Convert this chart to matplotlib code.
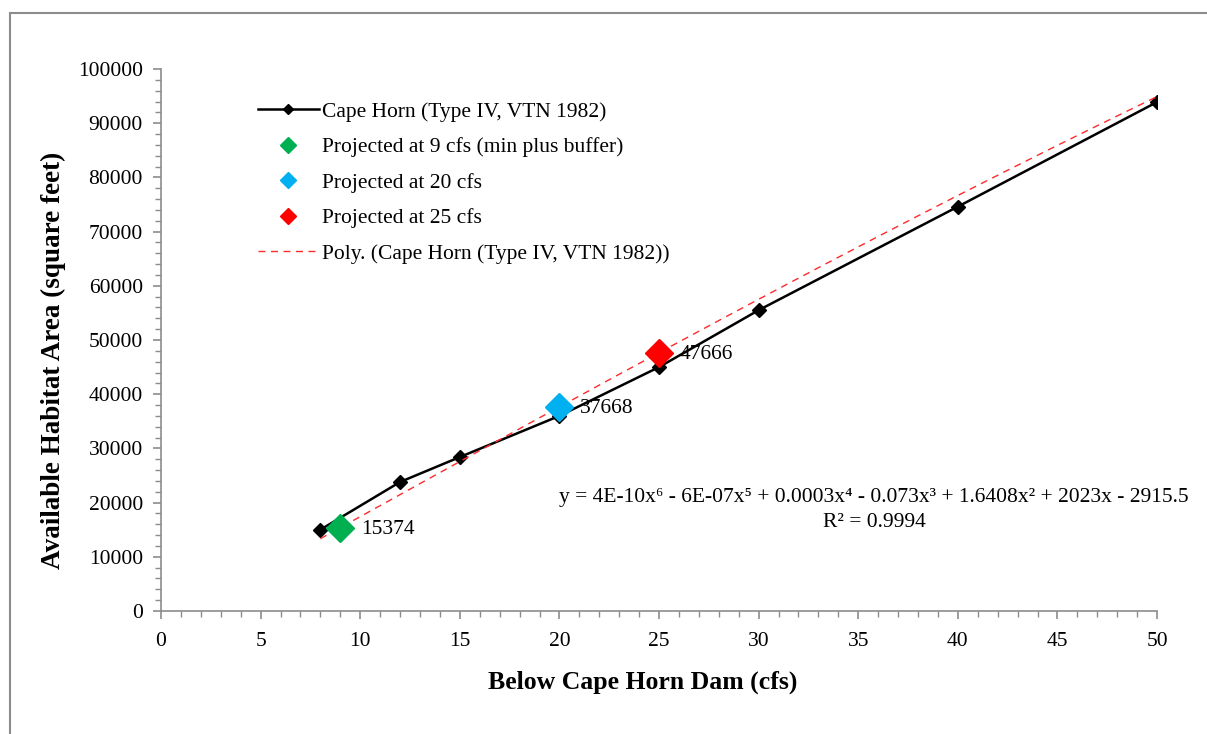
import numpy as np
import matplotlib.pyplot as plt
from matplotlib.lines import Line2D
from matplotlib.patches import Rectangle

plt.rcParams['font.family'] = ['Liberation Serif', 'DejaVu Serif']

# Cape Horn habitat curve
flow = [8, 12, 15, 20, 25, 30, 40, 50]
area = [15000, 23800, 28400, 36000, 45000, 55500, 74600, 93900]

# projected points
proj_x = [9, 20, 25]
proj_y = [15374, 37668, 47666]
proj_colors = ['#00b050', '#00b0f0', '#ff0000']
proj_names = ['Projected at 9 cfs (min plus buffer)', 'Projected at 20 cfs', 'Projected at 25 cfs']

# displayed trendline coefficients (highest power first)
poly_coef = [4e-10, -6e-7, 0.0003, -0.073, 1.6408, 2023, -2915.5]

fig = plt.figure(figsize=(12.07, 7.34), dpi=100)
ax = fig.add_axes([0.1334, 0.1676, 0.8252, 0.7384])

# chart area border (cropped on right/bottom)
fig.patches.append(Rectangle((10/1207, -0.1), 1.2, 1 - 13/734 + 0.1, transform=fig.transFigure,
                             fill=False, edgecolor='#8c8c8c', lw=1.5))

ax.plot(flow, area, color='black', lw=1.8, marker='D', ms=7, zorder=3)

xt = np.linspace(min(flow), max(flow), 200)
ax.plot(xt, np.polyval(poly_coef, xt), color='#ff2a2a', lw=1, ls=(0, (5, 4)), zorder=4)

for x, y, c in zip(proj_x, proj_y, proj_colors):
    ax.plot(x, y, marker='D', ms=14, color=c, ls='none', zorder=5)
    ax.annotate(str(y), (x, y), xytext=(15, -1), textcoords='offset points',
                fontsize=15.5, va='center', ha='left')

ax.text(0.716, 0.210, 'y = 4E-10x⁶ - 6E-07x⁵ + 0.0003x⁴ - 0.073x³ + 1.6408x² + 2023x - 2915.5',
        transform=ax.transAxes, ha='center', va='center', fontsize=15.5)
ax.text(0.716, 0.164, 'R² = 0.9994', transform=ax.transAxes, ha='center', va='center', fontsize=15.5)

ax.set_xlim(0, 50)
ax.set_ylim(0, 100000)
ax.set_xticks(np.arange(0, 51, 5))
ax.set_xticks(np.arange(0, 51, 1), minor=True)
ax.set_yticks(np.arange(0, 100001, 10000))
ax.set_yticks(np.arange(0, 100001, 2000), minor=True)
for s in ['top', 'right']:
    ax.spines[s].set_visible(False)
for s in ['left', 'bottom']:
    ax.spines[s].set_color('#8c8c8c')
    ax.spines[s].set_linewidth(1.2)
ax.tick_params(which='major', length=6, color='#8c8c8c', width=1.2, labelsize=15.5)
ax.tick_params(axis='x', which='major', pad=9)
ax.tick_params(axis='y', which='major', pad=7)
ax.tick_params(which='minor', length=4, color='#8c8c8c', width=1)

ax.set_xlabel('Below Cape Horn Dam (cfs)', fontsize=18.5, fontweight='bold', labelpad=14)
ax.set_ylabel('Available Habitat Area (square feet)', fontsize=19.5, fontweight='bold', labelpad=8.5)
ax.xaxis.label.set_x(0.484)
ax.yaxis.label.set_y(0.463)

handles = [Line2D([], [], color='black', lw=1.8, marker='D', ms=5)]
for c in proj_colors:
    handles.append(Line2D([], [], color=c, marker='D', ms=8, ls='none'))
handles.append(Line2D([], [], color='#ff2a2a', lw=1, ls=(0, (5, 4))))
labels = ['Cape Horn (Type IV, VTN 1982)'] + proj_names + ['Poly. (Cape Horn (Type IV, VTN 1982))']
fig.legend(handles, labels, loc='upper left', bbox_to_anchor=(0.198, 0.888), frameon=False,
           fontsize=15.5, handlelength=2.8, labelspacing=0.72, handletextpad=0.15)

fig.savefig('out.png', dpi=100)
